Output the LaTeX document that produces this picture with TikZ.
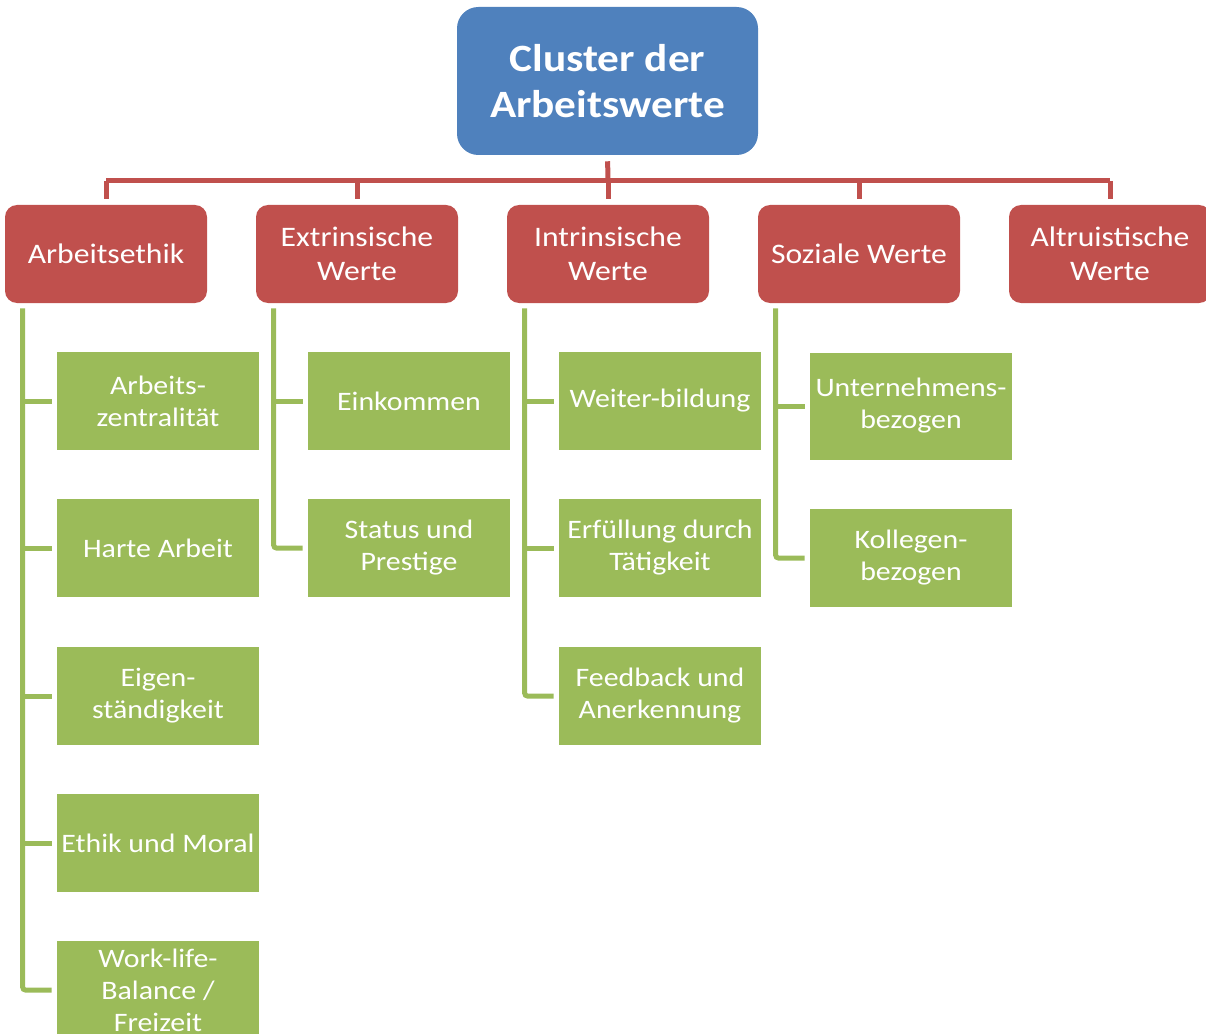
\documentclass[tikz,border=0pt]{standalone}
\usepackage{fontspec}
\setmainfont[FakeStretch=1.12]{Carlito}
\usetikzlibrary{calc}
\definecolor{cblue}{HTML}{4F81BD}
\definecolor{cred}{HTML}{C0504D}
\definecolor{cgreen}{HTML}{9BBB59}
\tikzset{
  topbox/.style={fill=cblue, rounded corners=16pt, minimum width=225.75pt, minimum height=111pt,
    inner sep=0pt, align=center, text=white, font=\fontsize{29}{35}\selectfont\bfseries},
  catbox/.style={fill=cred, rounded corners=9pt, minimum width=151.5pt, minimum height=73.5pt,
    inner sep=0pt, align=center, text=white, font=\fontsize{21.2}{25.5}\selectfont},
  itembox/.style={fill=cgreen, minimum width=151.5pt, minimum height=73.5pt,
    inner sep=0pt, align=center, text=white, font=\fontsize{20}{24}\selectfont},
  redline/.style={draw=cred, line width=3.75pt},
  greenline/.style={draw=cgreen, line width=3.75pt, rounded corners=2pt},
}
\begin{document}
\begin{tikzpicture}[x=0.75pt,y=-0.75pt]
\useasboundingbox (0,0) rectangle (1206,1034);
% top
\node[topbox] (top) at (607.5,81) {Cluster der\\Arbeitswerte};
% categories
\node[catbox] (r1) at (106,254) {Arbeitsethik};
\node[catbox] (r2) at (357,254) {Extrinsische\\Werte};
\node[catbox] (r3) at (608,254) {Intrinsische\\Werte};
\node[catbox] (r4) at (859,254) {Soziale Werte};
\node[catbox] (r5) at (1110,254) {Altruistische\\Werte};
% bus
\coordinate (bus) at (608,181);
\draw[redline, shorten <=4.5pt] (top.south) -- (bus);
\draw[redline] (bus -| r1.north) -- (bus -| r5.north);
\foreach \r in {r1,r2,r3,r4,r5}{
  \draw[redline, shorten >=4.5pt] (bus -| \r.north) -- (\r.north);
}
% items column 1
\node[itembox] (g11) at (158,401) {Arbeits-\\zentralität};
\node[itembox] (g12) at (158,548) {Harte Arbeit};
\node[itembox] (g13) at (158,696) {Eigen-\\ständigkeit};
\node[itembox] (g14) at (158,843) {Ethik und Moral};
\node[itembox] (g15) at (158,990) {Work-life-\\Balance /\\Freizeit};
% column 2
\node[itembox] (g21) at (409,401) {Einkommen};
\node[itembox] (g22) at (409,548) {Status und\\Prestige};
% column 3
\node[itembox] (g31) at (660,401) {Weiter-bildung};
\node[itembox] (g32) at (660,548) {Erfüllung durch\\Tätigkeit};
\node[itembox] (g33) at (660,696) {Feedback und\\Anerkennung};
% column 4
\node[itembox, minimum height=80.25pt] (g41) at (911,406) {Unternehmens-\\bezogen};
\node[itembox] (g42) at (911,558) {Kollegen-\\bezogen};
% green connectors
\coordinate (v1) at ($(r1.south west)+(18,5)$);
\coordinate (v2) at ($(r2.south west)+(18,5)$);
\coordinate (v3) at ($(r3.south west)+(18,5)$);
\coordinate (v4) at ($(r4.south west)+(18,5)$);
\draw[greenline] (v1) |- ([xshift=-3.75pt]g15.west);
\foreach \g in {g11,g12,g13,g14}{\draw[greenline] (v1 |- \g.west) -- ([xshift=-3.75pt]\g.west);}
\draw[greenline] (v2) |- ([xshift=-3.75pt]g22.west);
\draw[greenline] (v2 |- g21.west) -- ([xshift=-3.75pt]g21.west);
\draw[greenline] (v3) |- ([xshift=-3.75pt]g33.west);
\foreach \g in {g31,g32}{\draw[greenline] (v3 |- \g.west) -- ([xshift=-3.75pt]\g.west);}
\draw[greenline] (v4) |- ([xshift=-3.75pt]g42.west);
\draw[greenline] (v4 |- g41.west) -- ([xshift=-3.75pt]g41.west);
\end{tikzpicture}
\end{document}
